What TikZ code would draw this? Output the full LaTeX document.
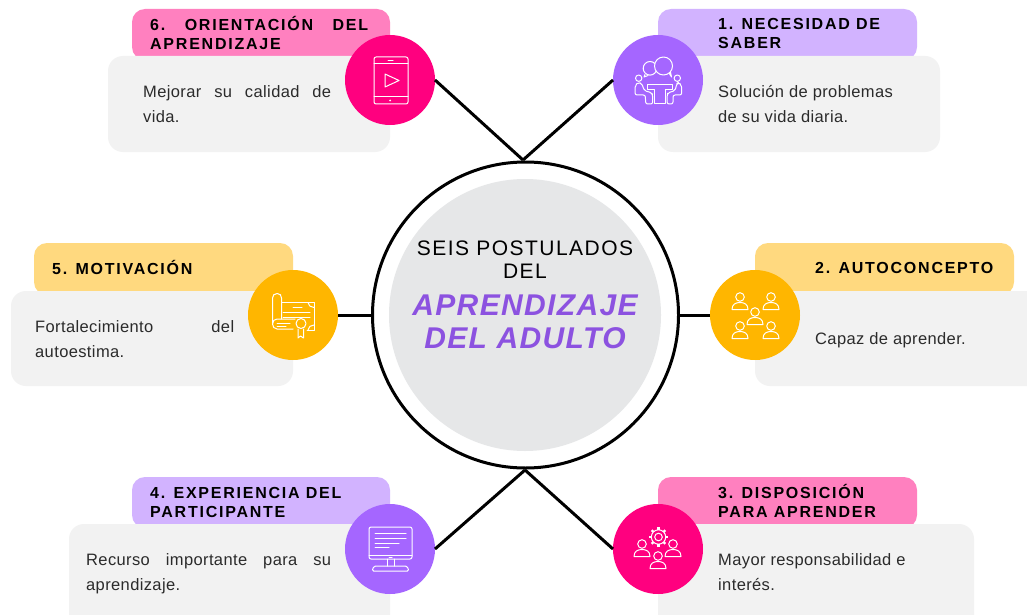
\documentclass[tikz,border=0pt]{standalone}
\usepackage{fontspec}
\setmainfont{Liberation Sans}
\newfontfamily\headf[LetterSpace=11]{Liberation Sans}
\newfontfamily\bodyf[LetterSpace=2.3]{Liberation Sans}
\newfontfamily\centf[LetterSpace=7]{Liberation Sans}
\newfontfamily\bigf[LetterSpace=4.5]{Liberation Sans}
\definecolor{pinkD}{HTML}{FF007F}
\definecolor{pinkL}{HTML}{FF80BF}
\definecolor{purD}{HTML}{A566FF}
\definecolor{purL}{HTML}{D2B3FF}
\definecolor{yelD}{HTML}{FFB600}
\definecolor{yelL}{HTML}{FFD97F}
\definecolor{boxG}{HTML}{F2F2F2}
\definecolor{discG}{HTML}{E6E7E8}
\definecolor{titleP}{HTML}{8C52E0}
\definecolor{bodyT}{HTML}{2B2B2B}
\tikzset{
  x=1pt,y=-1pt,
  hdr/.style={rounded corners=13pt},
  bodybox/.style={fill=boxG,rounded corners=15pt},
  disc/.style={circle,minimum size=90pt,inner sep=0pt,outer sep=0pt},
  conn/.style={line width=3pt,black},
  ico/.style={draw=white,line width=1pt,line join=round,line cap=round},
  headtxt/.style={anchor=north west,inner sep=0pt,align=left,text=black,font=\headf\bfseries\fontsize{16}{18.7}\selectfont},
  bodytxt/.style={anchor=north west,inner sep=0pt,align=left,text=bodyT,font=\bodyf\fontsize{16.5}{25}\selectfont},
  person/.pic={
    \draw[ico] (0,0) circle (4.3);
    \draw[ico] (-8,12.5) .. controls (-8,7) and (-4,5.5) .. (0,5.5) .. controls (4,5.5) and (8,7) .. (8,12.5) -- cycle;
  }
}
\begin{document}
\begin{tikzpicture}
\clip (0,0) rectangle (1027,615);
\fill[white] (0,0) rectangle (1027,615);
% panels
\fill[hdr,pinkL] (132,9) rectangle (390,60);
\fill[bodybox] (108,56) rectangle (390,152);
\fill[hdr,purL] (658,9) rectangle (917,60);
\fill[bodybox] (658,56) rectangle (940,152);
\fill[hdr,yelL] (34,243) rectangle (293,295);
\fill[bodybox] (11,291) rectangle (293,386);
\fill[hdr,yelL] (755,243) rectangle (1014,295);
\fill[bodybox] (755,291) rectangle (1050,386);
\fill[hdr,purL] (132,477) rectangle (390,528);
\fill[bodybox] (69,524) rectangle (390,640);
\fill[hdr,pinkL] (658,477) rectangle (917,528);
\fill[bodybox] (658,524) rectangle (974,640);
% centre
\node[circle,draw=black,line width=3pt,minimum size=306pt,inner sep=0pt,outer sep=0pt] (ring) at (525.5,315) {};
\node[circle,fill=discG,minimum size=272pt,inner sep=0pt] (core) at (525,315) {};
\coordinate (top) at (523,160);
\coordinate (bot) at (525,470);
% discs
\node[disc,fill=pinkD] (d6) at (390,80) {};
\node[disc,fill=purD] (d1) at (658,80) {};
\node[disc,fill=yelD] (d5) at (293,315) {};
\node[disc,fill=yelD] (d2) at (755,315) {};
\node[disc,fill=purD] (d4) at (390,549) {};
\node[disc,fill=pinkD] (d3) at (658,549) {};
% connectors
\draw[conn] (d6.east) -- (top);
\draw[conn] (d1.west) -- (top);
\draw[conn] (d5.east) -- (ring.west);
\draw[conn] (d2.west) -- (ring.east);
\draw[conn] (d4.east) -- (bot);
\draw[conn] (d3.west) -- (bot);
% header texts
\node[headtxt] (h6) at (150,16) {\makebox[218pt][s]{6.\ \ ORIENTACIÓN\ \ DEL}\\APRENDIZAJE};
\node[headtxt] (h1) at (718,18) {1. NECESIDAD DE\\SABER};
\node[headtxt] (h5) at (52,260) {5. MOTIVACIÓN};
\node[headtxt] (h2) at (815,262) {2. AUTOCONCEPTO};
\node[headtxt] (h4) at (150,487) {4. EXPERIENCIA DEL\\PARTICIPANTE};
\node[headtxt] (h3) at (718,484) {3. DISPOSICIÓN\\PARA APRENDER};
% body texts
\node[bodytxt] (b6) at (143,85.5) {\makebox[188pt][s]{Mejorar su calidad de}\\vida.};
\node[bodytxt] (b1) at (718,85.5) {Solución de problemas\\de su vida diaria.};
\node[bodytxt] (b5) at (35,320) {\makebox[199pt][s]{Fortalecimiento del}\\autoestima.};
\node[bodytxt] (b2) at (815,332.5) {Capaz de aprender.};
\node[bodytxt] (b4) at (86,553.5) {\makebox[245pt][s]{Recurso importante para su}\\aprendizaje.};
\node[bodytxt] (b3) at (718,553.5) {Mayor responsabilidad e\\interés.};
% centre texts
\node[inner sep=0pt,align=center,text=black,font=\centf\fontsize{21}{23.5}\selectfont] (t1) at (525,259.5) {SEIS POSTULADOS\\DEL};
\node[inner sep=0pt,align=center,text=titleP,font=\bigf\bfseries\itshape\fontsize{30}{33}\selectfont] (t2) at (525,322) {APRENDIZAJE\\DEL ADULTO};
% icon 6: tablet
\draw[ico,rounded corners=2pt] (374,57) rectangle (408,104);
\draw[ico] (374,64) -- (408,64) (374,97) -- (408,97) (388,61) -- (393,61);
\draw[ico] (385,74) -- (399,80.5) -- (385,87) -- cycle;
\fill[white] (390,100.5) circle (1);
% icon 1: meeting
\draw[ico] (650,68.3) circle (6.8);
\draw[ico] (645,74.5) -- (644,77) -- (648,75.5);
\draw[ico] (669,73) -- (671.5,77) -- (670,70);
\filldraw[ico,fill=purD] (663.5,66) circle (9);
\draw[ico] (638.7,78.2) circle (3.2);
\draw[ico] (677.3,78.2) circle (3.2);
\draw[ico,rounded corners=2pt] (635.3,85) -- (635,95) -- (645.3,95) -- (645.7,104) -- (652.7,104) -- (652.7,95) -- (651.7,92.7) -- (644.3,90.7) -- (641.7,83.3) -- (638.3,82.3) -- cycle;
\draw[ico,rounded corners=2pt] (681.5,85) -- (681.7,95) -- (673,95) -- (673,104) -- (667,104) -- (667,95) -- (668,92.7) -- (675,90.7) -- (677,83.3) -- (678.5,82.3) -- cycle;
\draw[ico] (647.5,84.5) -- (672.5,84.5) -- (672.5,89.5) -- (665.5,89.5) -- (665.5,104) -- (654.5,104) -- (654.5,89.5) -- (647.5,89.5) -- cycle;
% icon 5: diploma
\draw[ico,rounded corners=2pt] (293,329) -- (275,329) -- (272.5,326) -- (272.5,296) -- (275,293.5) -- (279.5,293.5) -- (281.5,296) -- (281.5,319);
\draw[ico] (272.5,324) .. controls (272.5,321) and (274.5,319) .. (277,319) -- (295,319);
\draw[ico] (281.5,302.5) -- (314,302.5) -- (314,330) -- (307,330);
\draw[ico] (308,302.5) .. controls (308,305.5) and (311,307.5) .. (314,307.5);
\draw[ico] (314,325) .. controls (311,325) and (308,327) .. (308,330);
\draw[ico] (293,307) -- (302,307) (283,312) -- (310,312) (283,317) -- (310,317) (277,323) -- (290,323) (277,326) -- (286,326);
\filldraw[ico,fill=yelD] (301,323.5) circle (5);
\draw[ico] (298,329) -- (298,338) -- (300.5,336) -- (303.5,338) -- (303.5,329);
% icon 2: people
\pic at (740,297) {person};
\pic at (771,297) {person};
\pic at (755,312) {person};
\pic at (740,326) {person};
\pic at (771,326) {person};
% icon 4: monitor
\draw[ico,rounded corners=2pt] (369,527) rectangle (412,559);
\draw[ico] (369,555) -- (412,555) (389,557) -- (392,557);
\draw[ico] (375,533.5) -- (406,533.5) (375,538) -- (406,538) (375,543) -- (399,543) (375,547.5) -- (389,547.5);
\draw[ico] (387,559) -- (387,566) (394,559) -- (394,566);
\draw[ico,rounded corners=1.5pt] (372,571) -- (374,566) -- (407,566) -- (409,571) -- cycle;
% icon 3: team with gear
\foreach \a in {0,45,...,315}{
  \draw[ico,line width=2.4pt,line cap=butt] (658.5,537) ++(\a:7.2) -- ++(\a:2.4);
}
\draw[ico] (658.5,537) circle (7.2);
\draw[ico] (658.5,537) circle (3.8);
\pic at (642,544) {person};
\pic at (673,544) {person};
\pic at (658,556) {person};
\end{tikzpicture}
\end{document}
